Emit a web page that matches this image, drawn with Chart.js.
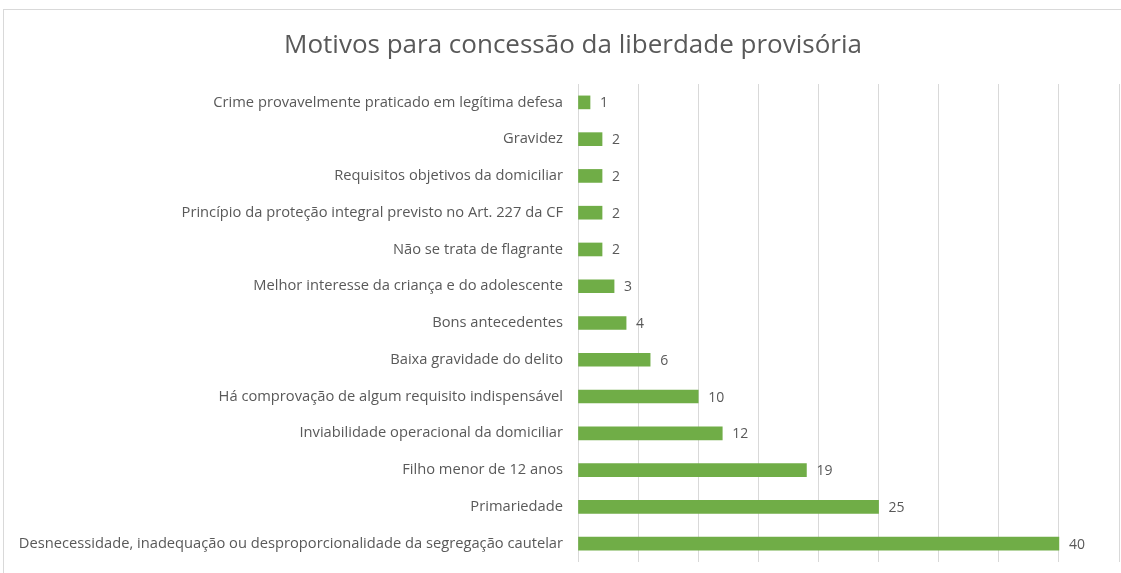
<!DOCTYPE html>
<html>
<head>
<meta charset="utf-8">
<script src="https://cdn.jsdelivr.net/npm/chart.js@4"></script>
<style>
  html, body { margin: 0; padding: 0; background: #fff; overflow: hidden; }
  #frame { position: absolute; left: 3px; top: 9px; width: 1140px; height: 580px; border: 1px solid #d9d9d9; box-sizing: border-box; }
  #titre { position: absolute; left: 3px; top: 28px; width: 1140px; text-align: center;
           font: 26px/31px 'Open Sans', sans-serif; color: #595959; white-space: nowrap; }
  #wrap { position: absolute; left: 0; top: 0; width: 1121px; height: 573px; }
</style>
</head>
<body>
<div id="frame"></div>
<div id="wrap"><canvas id="chart"></canvas></div>
<div id="titre"></div>
<script>
'use strict';
// ── Données ─────────────────────────────────────────────────────────────────
const motivos = [
  'Crime provavelmente praticado em legítima defesa',
  'Gravidez',
  'Requisitos objetivos da domiciliar',
  'Princípio da proteção integral previsto no Art. 227 da CF',
  'Não se trata de flagrante',
  'Melhor interesse da criança e do adolescente',
  'Bons antecedentes',
  'Baixa gravidade do delito',
  'Há comprovação de algum requisito indispensável',
  'Inviabilidade operacional da domiciliar',
  'Filho menor de 12 anos',
  'Primariedade',
  'Desnecessidade, inadequação ou desproporcionalidade da segregação cautelar',
];
const quantidades = [1, 2, 2, 2, 2, 3, 4, 6, 10, 12, 19, 25, 40];
const titulo = 'Motivos para concessão da liberdade provisória';

const TXT = '#595959';
const FONT = "'Open Sans', sans-serif";

// Titre en HTML : centré sur le cadre, qui déborde à droite de la fenêtre
document.getElementById('titre').textContent = titulo;

// ── Étiquettes de valeur à droite des barres ───────────────────────────────
const valueLabels = {
  id: 'valueLabels',
  afterDatasetsDraw(chart) {
    const { ctx } = chart;
    const meta = chart.getDatasetMeta(0);
    ctx.save();
    ctx.font = `14px ${FONT}`;
    ctx.fillStyle = TXT;
    ctx.textAlign = 'left';
    ctx.textBaseline = 'middle';
    meta.data.forEach((bar, i) => {
      ctx.fillText(String(quantidades[i]), bar.x + 10, bar.y + 1);
    });
    ctx.restore();
  }
};

new Chart(document.getElementById('chart'), {
  type: 'bar',
  data: {
    labels: motivos,
    datasets: [{
      data: quantidades,
      backgroundColor: '#70ad47',
      borderWidth: 0,
      barThickness: 13,
    }],
  },
  options: {
    indexAxis: 'y',
    responsive: true,
    maintainAspectRatio: false,
    animation: false,
    layout: { padding: { top: 84, right: 2, bottom: 11, left: 0 } },
    plugins: {
      legend: { display: false },
      tooltip: { enabled: false },
      title: { display: false },
    },
    scales: {
      x: {
        min: 0, max: 45,
        afterFit(scale) { scale.height = 0; },
        ticks: { display: false, stepSize: 5 },
        grid: { color: '#d9d9d9', drawTicks: false, lineWidth: 1 },
        border: { display: false },
      },
      y: {
        afterFit(scale) {
          scale.width = 578;
          scale.paddingTop = 0;
          scale.paddingBottom = 0;
        },
        ticks: { color: TXT, font: { family: FONT, size: 14.7 }, padding: 15 },
        grid: { display: false, drawTicks: false },
        border: { display: false },
      },
    },
  },
  plugins: [valueLabels],
});
</script>
</body>
</html>
